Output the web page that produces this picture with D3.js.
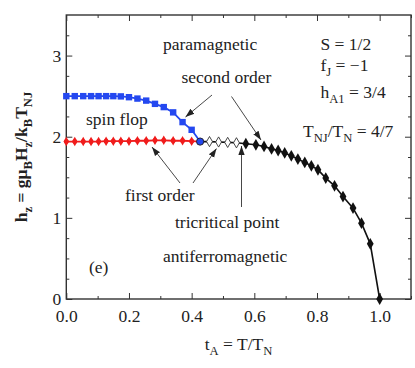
<!DOCTYPE html>
<html><head><meta charset="utf-8">
<script src="https://cdn.jsdelivr.net/npm/d3@7"></script>
<style>
body{margin:0;background:#fff}
svg{display:block}
text{font-family:"Liberation Serif","Times New Roman",serif;fill:#222}
</style>
</head><body><svg id="c" width="415" height="368"></svg>
<script>
// ---- data ----
const spinFlopT = [0, 0.027, 0.054, 0.079, 0.103, 0.127, 0.15, 0.174, 0.2, 0.227, 0.255, 0.283, 0.311, 0.341, 0.371, 0.4, 0.427];
const spinFlopH = [2.5, 2.5, 2.5, 2.5, 2.5, 2.5, 2.5, 2.497, 2.487, 2.47, 2.445, 2.405, 2.365, 2.3, 2.18, 2.085, 1.94];
const firstOrderT = [0, 0.027, 0.054, 0.079, 0.103, 0.127, 0.15, 0.174, 0.2, 0.227, 0.255, 0.283, 0.311, 0.341, 0.371, 0.4, 0.427];
const firstOrderH = [1.94, 1.94, 1.94, 1.94, 1.94, 1.945, 1.945, 1.945, 1.945, 1.95, 1.95, 1.955, 1.955, 1.95, 1.95, 1.945, 1.94];
const openT = [0.457, 0.486, 0.515, 0.543];
const openH = [1.94, 1.935, 1.93, 1.925];
const secondT = [0.573, 0.605, 0.631, 0.655, 0.676, 0.697, 0.718, 0.739, 0.761, 0.782, 0.803, 0.828, 0.856, 0.883, 0.915, 0.942, 0.970, 1.0];
const secondH = [1.914, 1.90, 1.88, 1.85, 1.83, 1.80, 1.765, 1.725, 1.683, 1.642, 1.593, 1.49, 1.395, 1.263, 1.12, 0.935, 0.68, 0];
const bicritical = [0.427, 1.94];
const xMajor = [0, 0.2, 0.4, 0.6, 0.8, 1.0];
const xMinor = [0.1, 0.3, 0.5, 0.7, 0.9, 1.1];
const yMajor = [0, 1, 2, 3];
const yMinor = [0.25, 0.5, 0.75, 1.25, 1.5, 1.75, 2.25, 2.5, 2.75, 3.25];

const svg = d3.select("#c");
const L = 66.3, R = 411, T = 15, B = 299;
const x = d3.scaleLinear().domain([0, 1.1]).range([L, R]);
const y = d3.scaleLinear().domain([0, 3.5]).range([B, T]);
const FS = 17.5;

function axisStyle(g){ g.select(".domain").remove(); g.selectAll("line").attr("stroke","#333").attr("stroke-width",1); }

// bottom
svg.append("g").attr("transform",`translate(0,${B})`)
  .call(d3.axisBottom(x).tickValues(xMajor).tickSize(-6).tickPadding(11).tickFormat(d3.format(".1f")))
  .call(axisStyle).selectAll("text").attr("font-size",FS).attr("font-family","Liberation Serif").attr("fill","#222");
svg.append("g").attr("transform",`translate(0,${B})`)
  .call(d3.axisBottom(x).tickValues(xMinor).tickSize(-3).tickFormat(""))
  .call(axisStyle);
// top
svg.append("g").attr("transform",`translate(0,${T})`)
  .call(d3.axisTop(x).tickValues(xMajor).tickSize(-6).tickFormat("")).call(axisStyle);
svg.append("g").attr("transform",`translate(0,${T})`)
  .call(d3.axisTop(x).tickValues(xMinor).tickSize(-3).tickFormat("")).call(axisStyle);
// left
svg.append("g").attr("transform",`translate(${L},0)`)
  .call(d3.axisLeft(y).tickValues(yMajor).tickSize(-6).tickPadding(5).tickFormat(d3.format("d")))
  .call(axisStyle).selectAll("text").attr("font-size",FS).attr("font-family","Liberation Serif").attr("fill","#222");
svg.append("g").attr("transform",`translate(${L},0)`)
  .call(d3.axisLeft(y).tickValues(yMinor).tickSize(-3).tickFormat("")).call(axisStyle);
// right
svg.append("g").attr("transform",`translate(${R},0)`)
  .call(d3.axisRight(y).tickValues(yMajor).tickSize(-6).tickFormat("")).call(axisStyle);
svg.append("g").attr("transform",`translate(${R},0)`)
  .call(d3.axisRight(y).tickValues(yMinor).tickSize(-3).tickFormat("")).call(axisStyle);

// frame
svg.append("rect").attr("x",L).attr("y",T).attr("width",R-L).attr("height",B-T)
  .attr("fill","none").attr("stroke","#333").attr("stroke-width",1.4);

const line = d3.line().x(d=>x(d[0])).y(d=>y(d[1]));
const zip = (a,b)=>a.map((v,i)=>[v,b[i]]);
const BLUE = "#2448f0", RED = "#f01c1c";

// black line: bicritical -> open -> second order
const blackPts = [bicritical].concat(zip(openT,openH), zip(secondT,secondH));
svg.append("path").attr("d",line(blackPts)).attr("fill","none").attr("stroke","#111").attr("stroke-width",1.6);
// red
const redPts = zip(firstOrderT, firstOrderH);
svg.append("path").attr("d",line(redPts)).attr("fill","none").attr("stroke",RED).attr("stroke-width",1.8);
svg.selectAll(".red").data(redPts.slice(0,-1)).join("path")
  .attr("d",d3.symbol(d3.symbolDiamond,26)).attr("transform",d=>`translate(${x(d[0])},${y(d[1])})`).attr("fill",RED);
svg.selectAll(".redc").data(redPts.slice(0,-1)).join("circle")
  .attr("cx",d=>x(d[0])).attr("cy",d=>y(d[1])).attr("r",2.4).attr("fill",RED);
// blue
const bluePts = zip(spinFlopT, spinFlopH);
svg.append("path").attr("d",line(bluePts)).attr("fill","none").attr("stroke",BLUE).attr("stroke-width",1.8);
svg.selectAll(".blu").data(bluePts.slice(0,-1)).join("rect")
  .attr("x",d=>x(d[0])-3.2).attr("y",d=>y(d[1])-3.2).attr("width",6.4).attr("height",6.4).attr("fill",BLUE);
// open diamonds
svg.selectAll(".open").data(zip(openT,openH)).join("path")
  .attr("d",d3.symbol(d3.symbolDiamond,30)).attr("transform",d=>`translate(${x(d[0])},${y(d[1])})`)
  .attr("fill","#fff").attr("stroke","#333").attr("stroke-width",0.9);
// filled diamonds
svg.selectAll(".fill").data(zip(secondT,secondH)).join("path")
  .attr("d",d3.symbol(d3.symbolDiamond,40)).attr("transform",d=>`translate(${x(d[0])},${y(d[1])})`)
  .attr("fill","#111");
// bicritical circle
svg.append("circle").attr("cx",x(bicritical[0])).attr("cy",y(bicritical[1])).attr("r",3.6)
  .attr("fill",BLUE).attr("stroke","#223").attr("stroke-width",1);

// arrows
const defs = svg.append("defs");
defs.append("marker").attr("id","ah").attr("viewBox","0 0 10 10").attr("refX",10).attr("refY",5)
  .attr("markerWidth",9).attr("markerHeight",9).attr("markerUnits","userSpaceOnUse").attr("orient","auto")
  .append("path").attr("d","M0,1.5 L10,5 L0,8.5 z").attr("fill","#222");
const arrows = [
  [212,95,185.5,117],
  [231.5,96.5,261,140],
  [180,183,152,147],
  [193,183,216.5,148.5],
  [241.5,207,241.5,146]
];
arrows.forEach(a=>{
  svg.append("line").attr("x1",a[0]).attr("y1",a[1]).attr("x2",a[2]).attr("y2",a[3])
    .attr("stroke","#333").attr("stroke-width",0.9).attr("marker-end","url(#ah)");
});

// labels
function lab(xp, yp, parts, opts={}){
  const t = svg.append("text").attr("x",xp).attr("y",yp).attr("font-size",opts.fs||FS);
  if(opts.anchor) t.attr("text-anchor",opts.anchor);
  if(opts.weight) t.attr("font-weight",opts.weight);
  if(opts.rotate) t.attr("transform",`rotate(-90,${xp},${yp})`);
  let sub=false;
  parts.forEach(p=>{
    const isSub = p[1]==="s";
    const s = t.append("tspan").text(p[0]);
    if(isSub && !sub){ s.attr("dy",5).attr("font-size",(opts.fs||FS)*0.72); sub=true; }
    else if(isSub){ s.attr("font-size",(opts.fs||FS)*0.72); }
    else if(!isSub && sub){ s.attr("dy",-5); sub=false; }
  });
  return t;
}
lab(163,50,[["paramagnetic"]]);
lab(181.5,83,[["second order"]]);
lab(86,125,[["spin flop"]]);
lab(125,201,[["first order"]]);
lab(175,228,[["tricritical point"]]);
lab(163,262,[["antiferromagnetic"]]);
lab(89,273,[["(e)"]]);
lab(320.5,50,[["S = 1/2"]]);
lab(320.5,71,[["f"],["J","s"],[" = \u22121"]]);
lab(320.5,98,[["h"],["A1","s"],[" = 3/4"]]);
lab(303,137,[["T"],["NJ","s"],["/T"],["N","s"],[" = 4/7"]]);
lab(238.5,350,[["t"],["A","s"],[" = T/T"],["N","s"]],{anchor:"middle"});
lab(27,157,[["h"],["z","s"],[" = g\u03bc"],["B","s"],["H"],["z","s"],["/k"],["B","s"],["T"],["NJ","s"]],{anchor:"middle",weight:"bold",rotate:true});
</script></body></html>
